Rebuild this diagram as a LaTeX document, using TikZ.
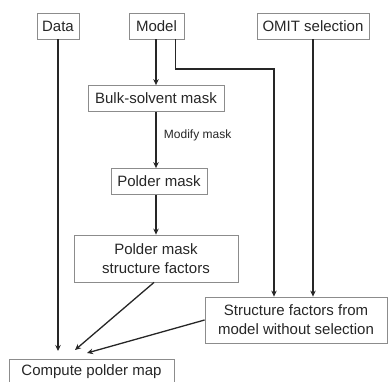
\documentclass[tikz,border=0pt]{standalone}
\usepackage{fontspec}
\setmainfont{Liberation Sans}
\usetikzlibrary{arrows.meta}

\begin{document}
\begin{tikzpicture}[x=1pt,y=-1pt,
  box/.style={draw=black!45,line width=0.8pt,text=black!85,align=center,
    font=\fontsize{15}{19}\selectfont,inner sep=0pt,minimum height=26pt},
  flow/.style={draw=black!85,line width=1.3pt,-{Stealth[length=6pt,width=5.5pt]}}]
  \useasboundingbox (0,0) rectangle (389,381);
  % inputs along the top
  \node[box,minimum width=42pt]  (data)  at (58,26)    {Data};
  \node[box,minimum width=55pt]  (model) at (156.5,26) {Model};
  \node[box,minimum width=112pt] (omit)  at (313,26)   {OMIT selection};
  % mask branch
  \node[box,minimum width=136pt] (bulk)   at (156,98.5) {Bulk-solvent mask};
  \node[box,minimum width=96pt]  (polder) at (159,181.5) {Polder mask};
  \node[box,minimum width=164pt,minimum height=47pt] (pmsf) at (156,258.5) {Polder mask\\structure factors};
  % model without selection, and the result
  \node[box,minimum width=182pt,minimum height=46pt] (sf) at (296,320) {Structure factors from\\model without selection};
  \node[box,minimum width=165pt] (compute) at (91.5,372) {Compute polder map};
  \coordinate (turn) at (274,69);
  \coordinate (in1)  at (58,351);
  \coordinate (in2)  at (75,350);
  \coordinate (in3)  at (87,353);
  \draw[flow] (data) -- (in1);
  \draw[flow] (model.south -| bulk) -- (bulk);
  \draw[flow] ([xshift=19pt]model.south) |- (turn) -- (turn |- sf.north);
  \draw[flow] (omit) -- (omit |- sf.north);
  \draw[flow] (bulk) -- (bulk |- polder.north) node[pos=0.42,right=4pt,text=black!85,font=\fontsize{12}{14}\selectfont] {Modify mask};
  \draw[flow] (bulk |- polder.south) -- (pmsf);
  \draw[flow] ([xshift=-2pt]pmsf.south) -- (in2);
  \draw[flow] (sf.west) -- (in3);
\end{tikzpicture}
\end{document}
